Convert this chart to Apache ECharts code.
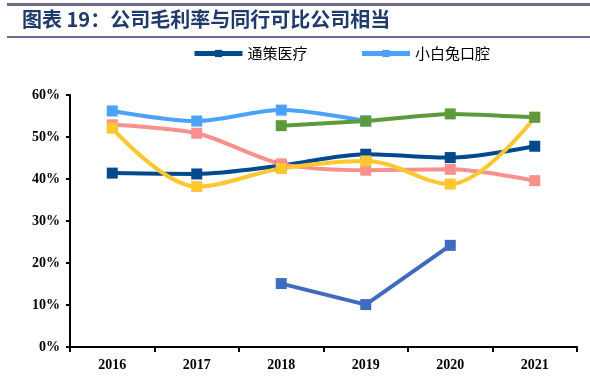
<!DOCTYPE html>
<html><head><meta charset="utf-8">
<script src="https://cdn.jsdelivr.net/npm/echarts@6/dist/echarts.min.js"></script>
<style>html,body{margin:0;padding:0;background:#fff}#c{width:590px;height:381px}</style>
</head><body><div id="c"></div>
<script>
const years = ['2016','2017','2018','2019','2020','2021'];
const tongce = [41.4, 41.2, 43.2, 45.9, 45.1, 47.8];
const xiaobaitu = [56.2, 53.8, 56.4, 53.8, null, null];
const peerPink = [52.9, 50.9, 43.6, 42.1, 42.3, 39.6];
const peerYellow = [52.1, 38.2, 42.5, 44.3, 38.8, 54.7];
const peerGreen = [null, null, 52.7, 53.8, 55.5, 54.7];
const peerBlue = [null, null, 15.1, 10.1, 24.2, null];
const yTicks = [0, 10, 20, 30, 40, 50, 60];

const chart = echarts.init(document.getElementById('c'), null, {renderer:'canvas'});
function mk(name, data, color, smooth){
  return {name, type:'line', data, smooth, connectNulls:false,
    symbol:'rect', symbolSize:11, lineStyle:{color, width:4}, itemStyle:{color}};
}
chart.setOption({
  animation:false,
  graphic:[
    {type:'rect', shape:{x:7,y:3,width:583,height:3}, style:{fill:'#6E6A8E'}},
    {type:'rect', shape:{x:7,y:36,width:583,height:2}, style:{fill:'#6E6A8E'}},
    {type:'text', left:22, top:9, style:{text:'图表 19：公司毛利率与同行可比公司相当', fill:'#1F3A6B',
      font:'bold 20px "Noto Sans CJK SC"'}}
  ],
  legend:{data:['通策医疗','小白兔口腔'], top:41, left:187, itemGap:52, itemWidth:48, itemHeight:9,
    lineStyle:{width:5},
    textStyle:{fontFamily:'"Noto Sans CJK SC"', fontSize:15, color:'#000'}},
  grid:{left:70, right:13, top:95, bottom:34},
  xAxis:{type:'category', data:years, boundaryGap:true,
    axisLine:{lineStyle:{color:'#000', width:2}},
    axisTick:{show:true, length:5, lineStyle:{color:'#000', width:2}},
    axisLabel:{color:'#000', fontFamily:'"Liberation Serif"', fontWeight:'bold', fontSize:14, margin:11}},
  yAxis:{type:'value', min:0, max:60, interval:10,
    splitLine:{show:false},
    axisLine:{show:true, lineStyle:{color:'#000', width:2}},
    axisTick:{show:true, length:4, lineStyle:{color:'#000', width:2}},
    axisLabel:{color:'#000', fontFamily:'"Liberation Serif"', fontWeight:'bold', fontSize:14, margin:10,
      formatter:v => yTicks.includes(v) ? v + '%' : ''}},
  series:[
    mk('通策医疗', tongce, '#024A8E', 0.3),
    mk('小白兔口腔', xiaobaitu, '#4CA2F8', 0.3),
    mk('同行A', peerPink, '#F8908E', 0.3),
    mk('同行B', peerYellow, '#FDC72F', 0.35),
    mk('同行C', peerGreen, '#5E9A3C', 0.2),
    mk('同行D', peerBlue, '#3E6BBF', false)
  ]
});
</script></body></html>
